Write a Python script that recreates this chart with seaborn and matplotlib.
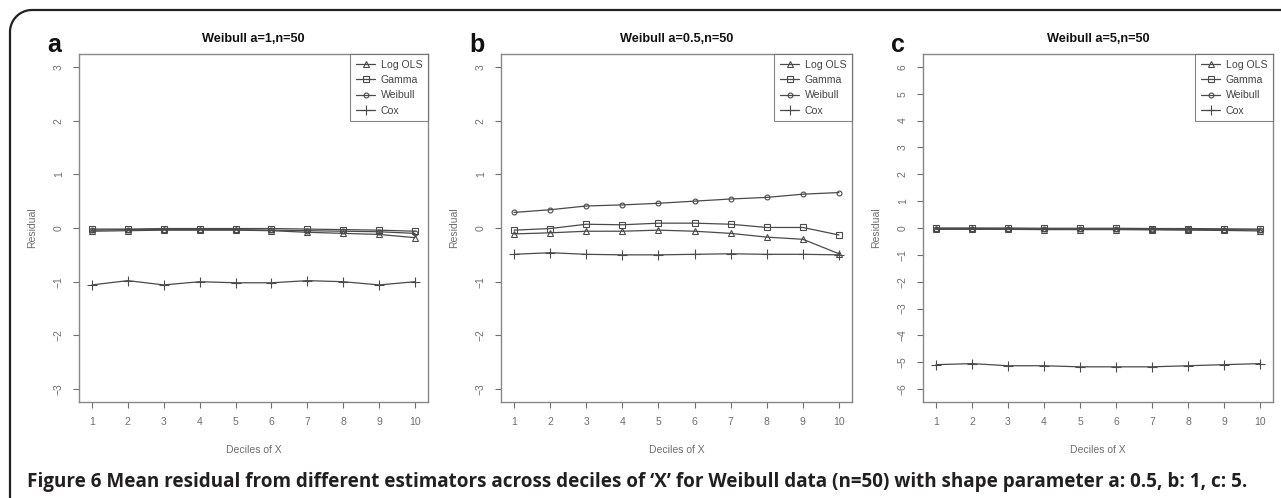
import numpy as np
import pandas as pd
import matplotlib
matplotlib.use("Agg")
import matplotlib.pyplot as plt
import seaborn as sns
from matplotlib.lines import Line2D

sns.set_style("white")
plt.rcParams['font.family'] = ['Liberation Sans', 'DejaVu Sans']

# data
deciles = [1, 2, 3, 4, 5, 6, 7, 8, 9, 10]
estimators = ["Log OLS", "Gamma", "Weibull", "Cox"]

# panel a: Weibull a=1
a_logols = [-0.06, -0.05, -0.04, -0.04, -0.04, -0.05, -0.08, -0.10, -0.12, -0.18]
a_gamma = [-0.02, -0.02, -0.01, -0.01, -0.01, -0.01, -0.02, -0.03, -0.04, -0.06]
a_weibull = [-0.04, -0.03, -0.03, -0.03, -0.03, -0.04, -0.05, -0.06, -0.07, -0.10]
a_cox = [-1.06, -0.98, -1.06, -1.00, -1.02, -1.02, -0.98, -1.00, -1.06, -1.00]

# panel b: Weibull a=0.5
b_logols = [-0.11, -0.09, -0.06, -0.06, -0.04, -0.06, -0.10, -0.17, -0.21, -0.48]
b_gamma = [-0.04, -0.01, 0.07, 0.06, 0.09, 0.09, 0.07, 0.01, 0.01, -0.13]
b_weibull = [0.29, 0.34, 0.41, 0.43, 0.46, 0.50, 0.54, 0.57, 0.63, 0.66]
b_cox = [-0.49, -0.46, -0.49, -0.50, -0.50, -0.49, -0.48, -0.49, -0.49, -0.50]

# panel c: Weibull a=5
c_logols = [-0.05, -0.05, -0.05, -0.06, -0.06, -0.06, -0.07, -0.08, -0.09, -0.11]
c_gamma = [0.00, 0.00, 0.00, -0.01, -0.01, -0.01, -0.02, -0.02, -0.03, -0.04]
c_weibull = [-0.02, -0.02, -0.03, -0.03, -0.04, -0.04, -0.05, -0.05, -0.06, -0.07]
c_cox = [-5.09, -5.05, -5.13, -5.13, -5.17, -5.17, -5.17, -5.13, -5.09, -5.05]

titles = ["Weibull a=1,n=50", "Weibull a=0.5,n=50", "Weibull a=5,n=50"]
letters = ["a", "b", "c"]
panels = [
    [a_logols, a_gamma, a_weibull, a_cox],
    [b_logols, b_gamma, b_weibull, b_cox],
    [c_logols, c_gamma, c_weibull, c_cox],
]
yticks = [list(range(-3, 4)), list(range(-3, 4)), list(range(-6, 7))]
ylims = [(-3.24, 3.24), (-3.24, 3.24), (-6.48, 6.48)]

markers = ["^", "s", "o", "+"]
msizes = [4, 4, 3.5, 7]
line_col = "#4a4a4a"
grey = "#6e6e6e"

W, H = 1281, 498
fig = plt.figure(figsize=(W / 100, H / 100), dpi=100)

# frame round the figure: top and left edges with a rounded corner (pixels)
r = 22
theta = np.linspace(np.pi, np.pi / 2, 30)
fx = np.concatenate([[10], 10 + r + r * np.cos(theta), [W + 5]])
fy = np.concatenate([[-5], (H - 10 - r) + r * np.sin(theta), [H - 10]])
fig.lines.append(Line2D(fx / W, fy / H, transform=fig.transFigure,
                        color="#222222", linewidth=1.6))

lefts = [79, 501, 923]
rights = [428, 852, 1273]
top, bottom = 54, 402

for i in range(3):
    ax = fig.add_axes([lefts[i] / W, (H - bottom) / H,
                       (rights[i] - lefts[i]) / W, (bottom - top) / H])
    for name, vals, mk, ms in zip(estimators, panels[i], markers, msizes):
        df = pd.DataFrame({"decile": deciles, "residual": vals})
        sns.lineplot(data=df, x="decile", y="residual", ax=ax, label=name,
                     color=line_col, linewidth=0.9, marker=mk,
                     markersize=ms, markerfacecolor="none",
                     markeredgecolor=line_col, markeredgewidth=0.8)
    ax.set_xlim(0.64, 10.36)
    ax.set_ylim(*ylims[i])
    ax.set_xticks(deciles)
    ax.set_yticks(yticks[i])
    ax.tick_params(axis="both", direction="out", length=4, width=0.8,
                   color=grey, labelcolor=grey, labelsize=7.5, pad=7,
                   bottom=True, left=True)
    for lab in ax.get_yticklabels():
        lab.set_rotation(90)
        lab.set_va("center")
    for sp in ax.spines.values():
        sp.set_color("#888888")
        sp.set_linewidth(1.0)
    ax.set_xlabel("Deciles of X", fontsize=7.5, color=grey, labelpad=13)
    ax.set_ylabel("Residual", fontsize=7.5, color=grey, labelpad=12)
    ax.set_title(titles[i], fontsize=9.2, fontweight="bold",
                 color="#111111", pad=9)
    fig.text((lefts[i] - 32) / W, (H - 52) / H, letters[i], fontsize=18,
             fontweight="bold", color="#111111", ha="left", va="baseline")
    leg = ax.legend(loc="upper right", fontsize=7.6, frameon=True,
                    fancybox=False, borderaxespad=0, handlelength=1.8,
                    handletextpad=0.5, labelspacing=0.5, borderpad=0.55,
                    numpoints=1)
    leg.get_frame().set_edgecolor("#666666")
    leg.get_frame().set_linewidth(0.8)
    for t in leg.get_texts():
        t.set_color("#444444")

fig.text(27 / W, (H - 482) / H,
         "Figure 6 Mean residual from different estimators across deciles of \u2018X\u2019 "
         "for Weibull data (n=50) with shape parameter a: 0.5, b: 1, c: 5.",
         fontsize=13.6, fontweight="bold", color="#231f20",
         family=["Open Sans", "DejaVu Sans"], ha="left", va="center")

fig.savefig("out.png", dpi=100)
